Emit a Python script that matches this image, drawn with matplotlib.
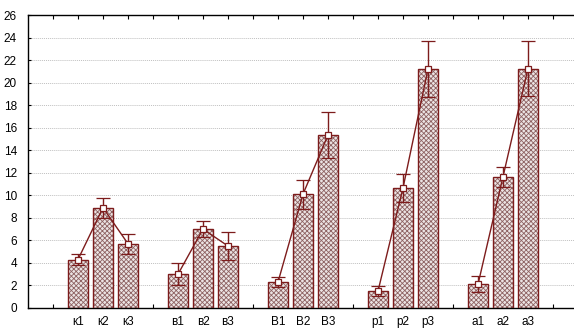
import matplotlib
matplotlib.use("Agg")
import matplotlib.pyplot as plt

# group labels and values
groups = ['к', 'в', 'В', 'р', 'а']
labels = [['к1', 'к2', 'к3'],
          ['в1', 'в2', 'в3'],
          ['В1', 'В2', 'В3'],
          ['р1', 'р2', 'р3'],
          ['а1', 'а2', 'а3']]
means = [[4.3, 8.9, 5.7],
         [3.0, 7.0, 5.5],
         [2.3, 10.1, 15.35],
         [1.5, 10.65, 21.2],
         [2.1, 11.65, 21.25]]
errors = [[0.5, 0.9, 0.9],
          [1.0, 0.7, 1.25],
          [0.45, 1.3, 2.05],
          [0.47, 1.24, 2.45],
          [0.7, 0.87, 2.45]]
y_ticks = list(range(0, 27, 2))

dark = '#7d1c1c'
plt.rcParams['font.family'] = ['Liberation Sans', 'DejaVu Sans']
plt.rcParams['hatch.linewidth'] = 0.6

fig = plt.figure(figsize=(5.74, 3.28), dpi=100)
ax = fig.add_axes([28 / 574, 20 / 328, 550 / 574, 293 / 328])

tick_pos = []
tick_lab = []
for g in range(len(groups)):
    xs = [2 + 4 * g + k for k in range(3)]
    # hatched fill, then outline on top
    ax.bar(xs, means[g], width=0.8, color='#ece4e4', edgecolor='#8e6262',
           hatch='xxxxxxx', linewidth=0, zorder=2)
    ax.bar(xs, means[g], width=0.8, fill=False, edgecolor=dark,
           linewidth=1.0, zorder=3)
    ax.errorbar(xs, means[g], yerr=errors[g], color=dark, linewidth=1.0,
                capsize=5, capthick=1.0, marker='s', markersize=4,
                markerfacecolor='white', markeredgecolor=dark,
                markeredgewidth=0.9, zorder=4)
    tick_pos += xs
    tick_lab += labels[g]

ax.set_xlim(0, 22)
ax.set_ylim(0, 26)
ax.set_yticks(y_ticks)
ax.set_xticks(range(1, 22))
all_labels = []
for i in range(1, 22):
    all_labels.append(tick_lab[tick_pos.index(i)] if i in tick_pos else '')
ax.set_xticklabels(all_labels)
ax.tick_params(axis='x', direction='in', length=3, top=True, labelsize=8.5, pad=6)
ax.tick_params(axis='y', direction='in', length=2, labelsize=8.5, pad=8)
ax.yaxis.grid(True, linestyle=(0, (1, 1)), color='#c0c0c0', linewidth=0.7)
ax.set_axisbelow(True)
for s in ax.spines.values():
    s.set_linewidth(1.0)

fig.savefig('out.png', dpi=100)
